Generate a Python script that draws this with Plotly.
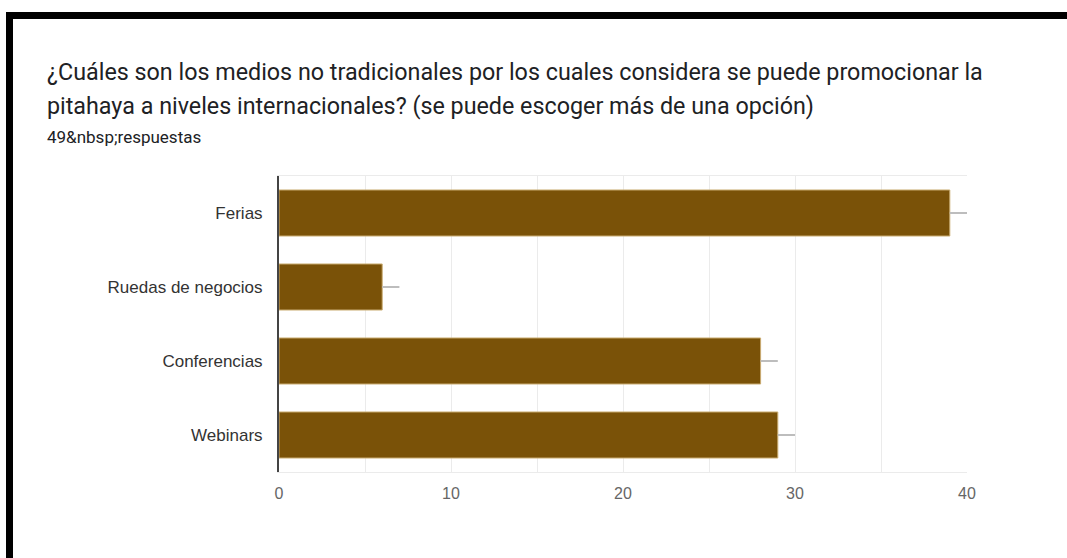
import plotly.graph_objects as go

categories = ["Ferias", "Ruedas de negocios", "Conferencias", "Webinars"]
counts = [39, 6, 28, 29]
whisker = [1, 1, 1, 1]
x_ticks = [0, 10, 20, 30, 40]

W, H = 1067, 558
L, R, T, B = 279, 100, 176, 86
pw, ph = W - L - R, H - T - B


def px_x(p):
    return (p - L) / pw


def px_y(p):
    return (H - B - p) / ph


fig = go.Figure(
    go.Bar(
        x=counts,
        y=categories,
        orientation="h",
        marker=dict(color="#7a5208", line=dict(color="#c9ab70", width=1)),
        error_x=dict(
            type="data",
            symmetric=False,
            array=whisker,
            arrayminus=[0] * len(whisker),
            color="#bdbdbd",
            thickness=2,
            width=0,
        ),
        hoverinfo="skip",
    )
)

fig.update_layout(
    width=W,
    height=H,
    margin=dict(l=L, r=R, t=T, b=B),
    paper_bgcolor="white",
    plot_bgcolor="white",
    showlegend=False,
    bargap=0.378,
    font=dict(family="Liberation Sans, Arial, sans-serif", color="#333"),
    xaxis=dict(
        range=[0, 40],
        tickvals=x_ticks,
        showgrid=True,
        gridcolor="#ebebeb",
        gridwidth=1,
        zeroline=False,
        showline=True,
        linecolor="#ebebeb",
        mirror=True,
        tickfont=dict(size=16, color="#666"),
        ticks="",
        ticklabelstandoff=7,
    ),
    yaxis=dict(
        categoryorder="array",
        categoryarray=categories,
        autorange="reversed",
        showgrid=False,
        zeroline=False,
        showline=True,
        linecolor="#444",
        linewidth=2,
        tickfont=dict(size=17, color="#333"),
        ticks="",
        ticklabelstandoff=11,
    ),
)

fig.update_xaxes(minor=dict(dtick=5, showgrid=True, gridcolor="#ebebeb"))

title_font = dict(family="Roboto, Arial, sans-serif", size=23.3, color="#202124")
fig.add_annotation(
    text="¿Cuáles son los medios no tradicionales por los cuales considera se puede promocionar la",
    xref="paper", yref="paper", x=px_x(45), y=px_y(72),
    xanchor="left", yanchor="middle", showarrow=False, font=title_font,
)
fig.add_annotation(
    text="pitahaya a niveles internacionales? (se puede escoger más de una opción)",
    xref="paper", yref="paper", x=px_x(45), y=px_y(106),
    xanchor="left", yanchor="middle", showarrow=False, font=title_font,
)
fig.add_annotation(
    text="49&amp;nbsp;respuestas",
    xref="paper", yref="paper", x=px_x(45), y=px_y(137),
    xanchor="left", yanchor="middle", showarrow=False,
    font=dict(family="Roboto, Arial, sans-serif", size=17, color="#202124"),
)

# frame: heavy black rules along the top and left edges
fig.add_shape(type="rect", xref="paper", yref="paper",
              x0=px_x(6), x1=px_x(1067), y0=px_y(12), y1=px_y(19),
              fillcolor="black", line=dict(width=0), layer="above")
fig.add_shape(type="rect", xref="paper", yref="paper",
              x0=px_x(6), x1=px_x(13), y0=px_y(12), y1=px_y(558),
              fillcolor="black", line=dict(width=0), layer="above")

fig.write_html("out.html")
